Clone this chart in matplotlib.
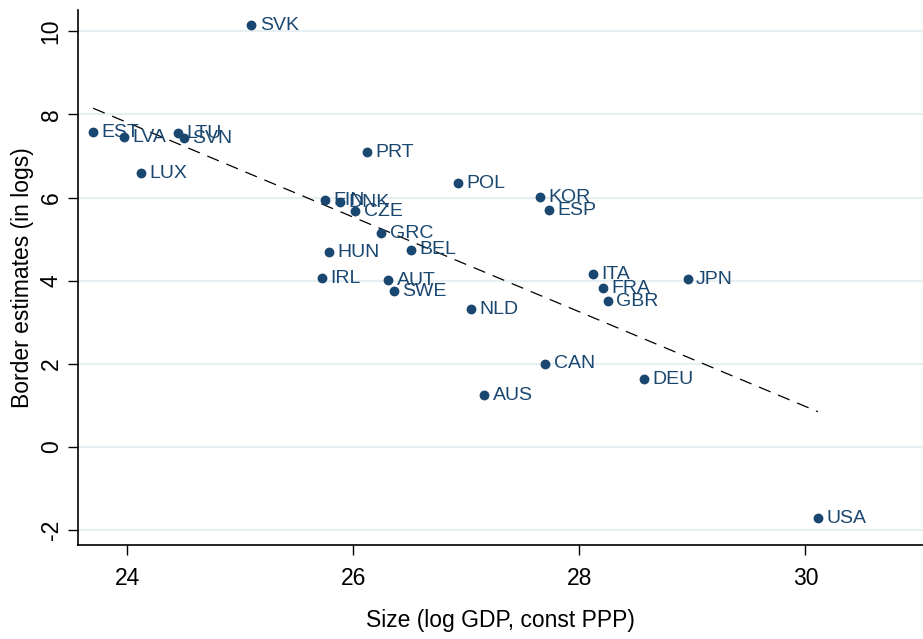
import numpy as np
import matplotlib
matplotlib.use("Agg")
import matplotlib.pyplot as plt

plt.rcParams['font.family'] = ['Liberation Sans', 'DejaVu Sans']
plt.rcParams['axes.unicode_minus'] = False

# country codes, log GDP (const PPP), border estimates (in logs)
countries = ["SVK", "EST", "LVA", "LTU", "SVN", "LUX", "PRT", "POL", "KOR", "ESP",
             "FIN", "DNK", "CZE", "GRC", "HUN", "BEL", "IRL", "AUT", "SWE", "NLD",
             "ITA", "FRA", "GBR", "JPN", "CAN", "DEU", "AUS", "USA"]
size_gdp = [25.10, 23.70, 23.97, 24.45, 24.50, 24.12, 26.12, 26.93, 27.65, 27.73,
            25.75, 25.88, 26.02, 26.25, 25.79, 26.51, 25.72, 26.31, 26.36, 27.04,
            28.12, 28.21, 28.25, 28.96, 27.70, 28.57, 27.16, 30.11]
border = [10.14, 7.57, 7.45, 7.55, 7.43, 6.59, 7.09, 6.35, 6.01, 5.70,
          5.94, 5.89, 5.67, 5.14, 4.69, 4.74, 4.06, 4.01, 3.75, 3.32,
          4.16, 3.82, 3.51, 4.04, 2.00, 1.63, 1.25, -1.71]

navy = "#1a476f"

x = np.array(size_gdp)
y = np.array(border)

fig = plt.figure(figsize=(9.23, 6.39), dpi=100)
ax = fig.add_axes([0.0845, 0.147, 0.9155, 0.837])

# horizontal grid lines
for t in [-2, 0, 2, 4, 6, 8, 10]:
    ax.axhline(t, color="#e8eff2", lw=1.6, zorder=0)

# linear fit
b, a = np.polyfit(x, y, 1)
xs = np.array([x.min(), x.max()])
ax.plot(xs, a + b * xs, color="black", lw=0.9, ls=(0, (10, 6.5)), zorder=1)

ax.scatter(x, y, s=50, color=navy, zorder=3, linewidths=0)
for c, xi, yi in zip(countries, x, y):
    ax.annotate(c, (xi, yi), xytext=(6, 0), textcoords="offset points",
                va="center", ha="left", color=navy, fontsize=14)

ax.set_xlim(23.566, 31.04)
ax.set_ylim(-2.356, 10.505)
ax.set_xticks([24, 26, 28, 30])
ax.set_yticks([-2, 0, 2, 4, 6, 8, 10])
ax.tick_params(axis="both", direction="out", length=7.5, width=1, labelsize=16.5)
ax.tick_params(axis="x", pad=8)
for lab in ax.get_yticklabels():
    lab.set_rotation(90)
    lab.set_va("center")

ax.spines["top"].set_visible(False)
ax.spines["right"].set_visible(False)
ax.spines["left"].set_linewidth(1.2)
ax.spines["bottom"].set_linewidth(1.2)

ax.set_xlabel("Size (log GDP, const PPP)", fontsize=16.5, labelpad=14)
ax.set_ylabel("Border estimates (in logs)", fontsize=16.5, labelpad=4)

fig.savefig("out.png", dpi=100)
